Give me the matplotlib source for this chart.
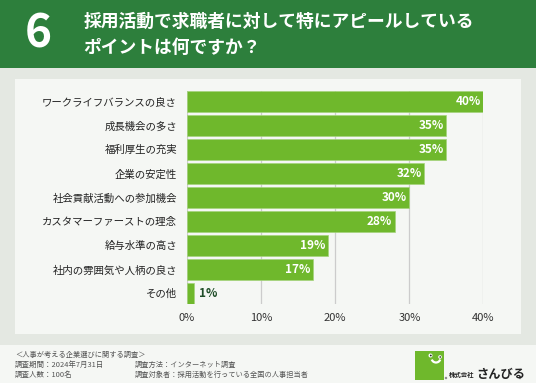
import matplotlib
matplotlib.use('Agg')
import matplotlib.pyplot as plt
from matplotlib.patches import Rectangle, Arc, Circle

plt.rcParams['font.family'] = ['Noto Sans CJK JP', 'DejaVu Sans']

categories = ['ワークライフバランスの良さ', '成長機会の多さ', '福利厚生の充実', '企業の安定性',
              '社会貢献活動への参加機会', 'カスタマーファーストの理念', '給与水準の高さ',
              '社内の雰囲気や人柄の良さ', 'その他']
values = [40, 35, 35, 32, 30, 28, 19, 17, 1]
ticks = [0, 10, 20, 30, 40]

W, H = 536, 383

fig = plt.figure(figsize=(W / 100, H / 100), dpi=100, facecolor='#e4e8e2')

# 背景のパネル (ピクセル座標)
bg = fig.add_axes([0, 0, 1, 1])
bg.set_xlim(0, W)
bg.set_ylim(H, 0)
bg.axis('off')
bg.add_patch(Rectangle((0, 0), W, 67.5, color='#2d7f3c', lw=0))
bg.add_patch(Rectangle((15, 79), 506, 255, color='#f5f7f4', lw=0))
bg.add_patch(Rectangle((0, 344.5), W, 39, color='#f5f7f4', lw=0))

# ヘッダー
bg.text(38, 34, '6', color='white', fontsize=33, fontweight='bold', ha='center', va='center')
bg.text(83.5, 22, '採用活動で求職者に対して特にアピールしている', color='white', fontsize=12.8,
        fontweight='bold', ha='left', va='center')
bg.text(83.5, 47.5, 'ポイントは何ですか？', color='white', fontsize=12.8,
        fontweight='bold', ha='left', va='center')

# グラフ本体
x0, x40 = 187, 483.5
top, bottom = 91, 303.5
ax = fig.add_axes([x0 / W, 1 - bottom / H, (x40 - x0) / W, (bottom - top) / H])
ax.set_facecolor('none')
pos = list(range(len(values)))
bars = ax.barh(pos, values, height=0.855, color='#6fb82c', edgecolor='#a5d47c', linewidth=0.5, zorder=3)
ax.set_xlim(0, 40)
ax.set_ylim(8.425, -0.43)
ax.set_xticks(ticks)
ax.set_xticklabels([f'{t}%' for t in ticks], fontsize=8, color='#333333')
ax.set_yticks(pos)
ax.set_yticklabels(categories, fontsize=7.5, color='#222222')
ax.tick_params(length=0, pad=7.2, axis='y')
ax.tick_params(length=0, pad=6.5, axis='x')
ax.grid(axis='x', color='#cccccc', linewidth=0.9, zorder=0)
for s in ax.spines.values():
    s.set_visible(False)

for p, v in zip(pos, values):
    if v > 1:
        ax.text(v - 0.35, p, f'{v}%', color='white', fontsize=8.5, fontweight='bold',
                ha='right', va='center', zorder=4)
    else:
        ax.text(v + 0.6, p, f'{v}%', color='#1f4d28', fontsize=8.5, fontweight='bold',
                ha='left', va='center', zorder=4)

# フッター
foot = '#555555'
bg.text(15, 355, '＜人事が考える企業選びに関する調査＞', fontsize=5.2, color=foot, va='center')
bg.text(15, 365, '調査期間：2024年7月31日', fontsize=5.4, color=foot, va='center')
bg.text(15, 375, '調査人数：100名', fontsize=5.4, color=foot, va='center')
bg.text(135, 365, '調査方法：インターネット調査', fontsize=5.2, color=foot, va='center')
bg.text(135, 375, '調査対象者：採用活動を行っている全国の人事担当者', fontsize=5.2, color=foot, va='center')

# ロゴ
bg.add_patch(Rectangle((415, 350.5), 29, 29, color='#6fb82c', lw=0))
bg.add_patch(Circle((430.5, 355.5), 2, color='white', lw=0))
bg.add_patch(Circle((440, 357), 1.8, color='white', lw=0))
bg.add_patch(Circle((430.8, 355.5), 0.9, color='#222222', lw=0))
bg.add_patch(Circle((440.2, 357), 0.8, color='#222222', lw=0))
bg.add_patch(Arc((436, 358), 9, 9, theta1=20, theta2=160, color='white', lw=1.6))
bg.text(449, 375, '株式会社', fontsize=4.6, fontweight='bold', color='#222222', va='center')
bg.text(476, 374.5, 'さんびる', fontsize=8.8, fontweight='bold', color='#222222', va='center')
bg.add_patch(Circle((520, 378), 0.9, fill=False, ec='#555555', lw=0.4))
bg.add_patch(Circle((446, 378), 0.9, fill=False, ec='#555555', lw=0.4))

fig.savefig('out.png', dpi=100, facecolor=fig.get_facecolor())
